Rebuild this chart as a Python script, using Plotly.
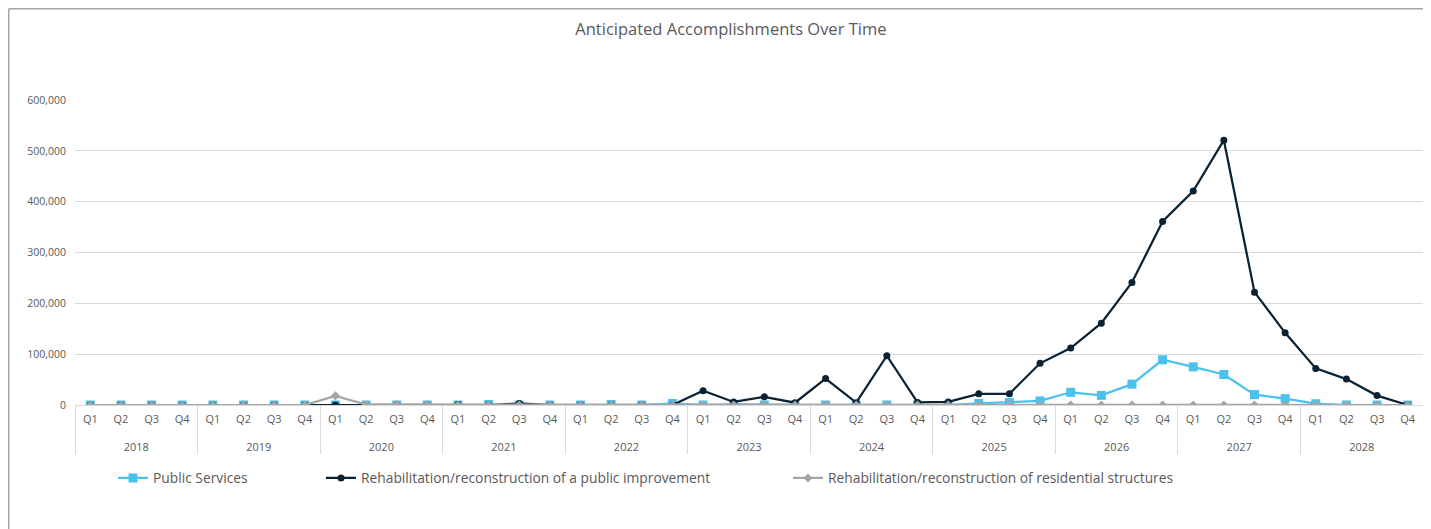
import plotly.graph_objects as go

FONT = "Open Sans, Arial, sans-serif"
TEXT_GREY = "#595959"
GRID = "#D9D9D9"

YEARS = ["2018", "2019", "2020", "2021", "2022", "2023",
         "2024", "2025", "2026", "2027", "2028"]
QUARTERS = ["Q1", "Q2", "Q3", "Q4"]

# quarterly values, 2018 Q1 -> 2028 Q4
public_services = [
    0, 0, 0, 0,
    0, 0, 0, 0,
    0, 0, 0, 0,
    0, 1000, 0, 0,
    0, 1000, 0, 3000,
    0, 1000, 0, 0,
    0, 0, 0, 0,
    0, 3000, 5000, 8000,
    25000, 19000, 41000, 89000,
    75000, 60000, 20500, 12500,
    2500, 0, 0, 0,
]
public_improvement = [
    0, 0, 0, 0,
    0, 0, 0, 0,
    0, 0, 0, 0,
    1000, 0, 3000, 0,
    0, 0, 0, 0,
    28000, 6000, 16000, 4500,
    52000, 4500, 97000, 5000,
    6000, 22000, 22000, 82000,
    112000, 161000, 241000, 361000,
    421000, 521000, 222000, 142000,
    72000, 51000, 18500, 0,
]
residential = [
    0, 0, 0, 0,
    0, 0, 0, 0,
    18000, 1000, 1000, 1000,
    0, 0, 0, 0,
    0, 0, 0, 0,
    0, 0, 0, 0,
    0, 0, 0, 0,
    0, 0, 0, 0,
    0, 0, 0, 0,
    0, 0, 0, 0,
    0, 0, 0, 0,
]

# two-level category axis; the leading <br> drops the year row a little lower
x_years = ["<br>" + y for y in YEARS for _ in QUARTERS]
x_quarters = [q for _ in YEARS for q in QUARTERS]
x = [x_years, x_quarters]

fig = go.Figure()
fig.add_trace(go.Scatter(
    x=x, y=public_services, name="Public Services", mode="lines+markers",
    line=dict(color="#4BC1EE", width=2.25),
    marker=dict(symbol="square", size=9, color="#4BC1EE"),
    legend="legend"))
fig.add_trace(go.Scatter(
    x=x, y=public_improvement, name="Rehabilitation/reconstruction of a public improvement",
    mode="lines+markers",
    line=dict(color="#0A2233", width=2.25),
    marker=dict(symbol="circle", size=7, color="#0A2233"),
    legend="legend2"))
fig.add_trace(go.Scatter(
    x=x, y=residential, name="Rehabilitation/reconstruction of residential structures",
    mode="lines+markers",
    line=dict(color="#A5A5A5", width=2.25),
    marker=dict(symbol="diamond", size=7, color="#A5A5A5"),
    legend="legend3"))

# the page body adds an 8px offset, so the figure is 1423x521
W, H = 1423, 521
PLOT_L, PLOT_R, PLOT_T, PLOT_B = 67, 1415, 92, 397


def px_x(p):
    return (p - PLOT_L) / (PLOT_R - PLOT_L)


def px_y(p):
    return (PLOT_B - p) / (PLOT_B - PLOT_T)


legend_common = dict(orientation="h", yanchor="middle", xanchor="left",
                     font=dict(family=FONT, size=13.8, color=TEXT_GREY),
                     bgcolor="rgba(0,0,0,0)")

fig.update_layout(
    width=W, height=H,
    margin=dict(l=PLOT_L, r=W - PLOT_R, t=PLOT_T, b=H - PLOT_B, autoexpand=False),
    paper_bgcolor="white", plot_bgcolor="white",
    font=dict(family=FONT, color=TEXT_GREY),
    title=dict(text="Anticipated Accomplishments Over Time", x=0.508, xanchor="center",
               y=1 - 21 / H, yanchor="middle",
               font=dict(family=FONT, size=16.5, color=TEXT_GREY)),
    showlegend=True,
    legend=dict(x=px_x(105), y=px_y(470), **legend_common),
    legend2=dict(x=px_x(313), y=px_y(470), **legend_common),
    legend3=dict(x=px_x(780), y=px_y(470), **legend_common),
    shapes=[
        dict(type="line", xref="paper", yref="paper", x0=px_x(0.75), x1=px_x(W),
             y0=px_y(0.75), y1=px_y(0.75), line=dict(color="#A6A6A6", width=1.5)),
        dict(type="line", xref="paper", yref="paper", x0=px_x(0.75), x1=px_x(0.75),
             y0=px_y(0.75), y1=px_y(H), line=dict(color="#A6A6A6", width=1.5)),
    ],
)

fig.update_yaxes(range=[0, 600000], dtick=100000, tickformat=",",
                 showgrid=True, gridcolor=GRID, gridwidth=1,
                 zeroline=False, showline=False, ticks="", automargin=False,
                 ticklabelstandoff=8,
                 tickfont=dict(family=FONT, size=10.5, color=TEXT_GREY))
fig.update_xaxes(type="multicategory", range=[-0.5, len(x_quarters) - 0.5],
                 showgrid=False, showline=True,
                 linecolor=GRID, linewidth=1, ticks="", automargin=False,
                 showdividers=True, dividercolor=GRID, dividerwidth=1,
                 ticklabelstandoff=4,
                 tickfont=dict(family=FONT, size=11, color=TEXT_GREY))

fig.write_html("out.html")
